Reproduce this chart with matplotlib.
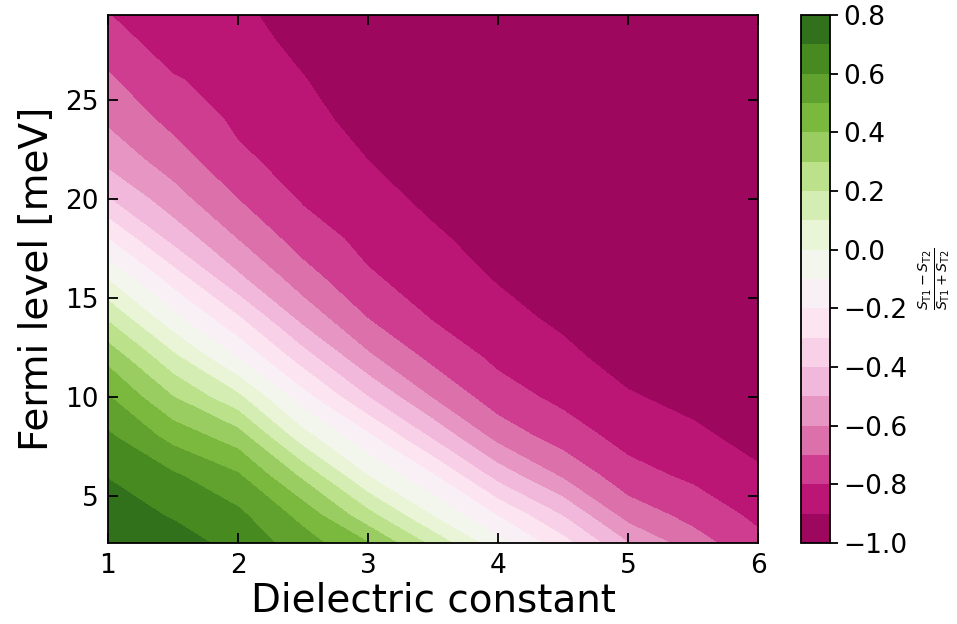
import numpy as np
import matplotlib
matplotlib.use("Agg")
import matplotlib.pyplot as plt

# Dielectric constant (x) and Fermi level in meV (y)
dielectric = [1.0, 1.5, 2.0, 2.5, 3.0, 3.5, 4.0, 4.5, 5.0, 5.5, 6.0]
fermi = [2.6, 4, 6, 8, 10, 12, 14, 16, 18, 20, 22, 24, 26, 28, 29.3]

# (S_T1 - S_T2)/(S_T1 + S_T2) along the Fermi axis, one list per dielectric constant
ratio_eps_1_0 = [0.765, 0.745, 0.696, 0.616, 0.506, 0.367, 0.182, -0.010, -0.201, -0.395, -0.535, -0.617, -0.686, -0.752, -0.797]
ratio_eps_1_5 = [0.740, 0.692, 0.615, 0.464, 0.300, 0.125, -0.073, -0.248, -0.435, -0.561, -0.652, -0.731, -0.790, -0.856, -0.870]
ratio_eps_2_0 = [0.670, 0.623, 0.513, 0.345, 0.120, -0.109, -0.291, -0.482, -0.605, -0.701, -0.783, -0.819, -0.843, -0.867, -0.882]
ratio_eps_2_5 = [0.545, 0.467, 0.278, 0.038, -0.164, -0.356, -0.538, -0.658, -0.750, -0.811, -0.839, -0.868, -0.896, -0.924, -0.940]
ratio_eps_3_0 = [0.404, 0.235, -0.001, -0.183, -0.401, -0.583, -0.704, -0.788, -0.830, -0.865, -0.901, -0.935, -0.955, -0.965, -0.970]
ratio_eps_3_5 = [0.171, -0.005, -0.191, -0.420, -0.610, -0.729, -0.808, -0.846, -0.885, -0.923, -0.945, -0.958, -0.966, -0.972, -0.975]
ratio_eps_4_0 = [-0.070, -0.205, -0.439, -0.638, -0.757, -0.823, -0.866, -0.908, -0.940, -0.955, -0.964, -0.970, -0.975, -0.978, -0.980]
ratio_eps_4_5 = [-0.263, -0.405, -0.615, -0.750, -0.826, -0.874, -0.922, -0.948, -0.960, -0.967, -0.972, -0.976, -0.979, -0.981, -0.983]
ratio_eps_5_0 = [-0.497, -0.641, -0.763, -0.836, -0.890, -0.945, -0.958, -0.966, -0.971, -0.975, -0.978, -0.980, -0.982, -0.984, -0.985]
ratio_eps_5_5 = [-0.658, -0.732, -0.820, -0.877, -0.934, -0.955, -0.965, -0.971, -0.975, -0.978, -0.980, -0.982, -0.984, -0.985, -0.986]
ratio_eps_6_0 = [-0.773, -0.823, -0.881, -0.939, -0.958, -0.967, -0.973, -0.977, -0.980, -0.982, -0.984, -0.985, -0.986, -0.987, -0.988]

levels = [-1.0, -0.9, -0.8, -0.7, -0.6, -0.5, -0.4, -0.3, -0.2, -0.1,
          0.0, 0.1, 0.2, 0.3, 0.4, 0.5, 0.6, 0.7, 0.8]
cbar_ticks = [-1.0, -0.8, -0.6, -0.4, -0.2, 0.0, 0.2, 0.4, 0.6, 0.8]
x_ticks = [1, 2, 3, 4, 5, 6]
y_ticks = [5, 10, 15, 20, 25]

Z = np.column_stack([ratio_eps_1_0, ratio_eps_1_5, ratio_eps_2_0, ratio_eps_2_5,
                     ratio_eps_3_0, ratio_eps_3_5, ratio_eps_4_0, ratio_eps_4_5,
                     ratio_eps_5_0, ratio_eps_5_5, ratio_eps_6_0])
X, Y = np.meshgrid(dielectric, fermi)

fig = plt.figure(figsize=(9.57, 6.24), dpi=100)
ax = fig.add_axes([108 / 957, 1 - 543 / 624, 650 / 957, 528 / 624])
cax = fig.add_axes([801 / 957, 1 - 543 / 624, 29 / 957, 528 / 624])

cs = ax.contourf(X, Y, Z, levels=levels, cmap="PiYG")
ax.set_xlim(1, 6)
ax.set_ylim(2.6, 29.3)
ax.set_xticks(x_ticks)
ax.set_yticks(y_ticks)
ax.tick_params(direction="in", top=True, right=True, length=7, width=1.3,
               labelsize=19, pad=7)
for sp in ax.spines.values():
    sp.set_linewidth(1.3)
ax.set_xlabel("Dielectric constant", fontsize=28, labelpad=2)
ax.set_ylabel("Fermi level [meV]", fontsize=28, labelpad=6)

cb = fig.colorbar(cs, cax=cax, ticks=cbar_ticks)
cb.ax.tick_params(labelsize=19, length=6, width=1.3)
cb.outline.set_linewidth(1.3)
cb.set_label(r"$\frac{S_{\mathrm{T1}}-S_{\mathrm{T2}}}{S_{\mathrm{T1}}+S_{\mathrm{T2}}}$",
             fontsize=14.5, labelpad=7)

fig.savefig("out.png", dpi=100)
